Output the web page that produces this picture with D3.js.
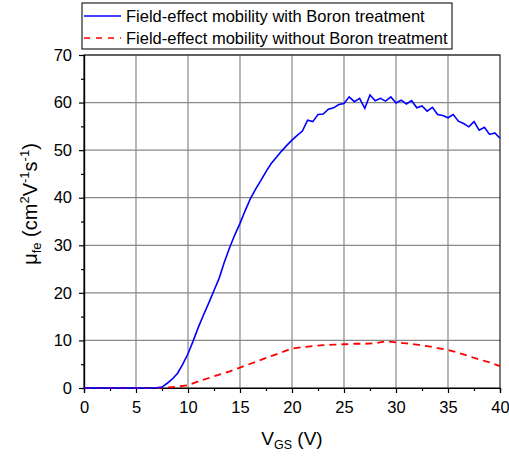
<!DOCTYPE html>
<html><head><meta charset="utf-8">
<script src="https://cdn.jsdelivr.net/npm/d3@7"></script>
<style>body{margin:0;background:#fff}svg{display:block;font-family:"Liberation Sans",Arial,sans-serif}</style>
</head><body>
<script>
const vgsBoron = [0,0.5,1,1.5,2,2.5,3,3.5,4,4.5,5,5.5,6,6.5,7,7.5,8,8.5,9,9.5,10,10.5,11,11.5,12,12.5,13,13.5,14,14.5,15,15.5,16,16.5,17,17.5,18,18.5,19,19.5,20,20.5,21,21.5,22,22.5,23,23.5,24,24.5,25,25.5,26,26.5,27,27.5,28,28.5,29,29.5,30,30.5,31,31.5,32,32.5,33,33.5,34,34.5,35,35.5,36,36.5,37,37.5,38,38.5,39,39.5,40];
const muBoron = [0,0,0,0,0,0,0,0,0,0,0,0,0,0,0.05,0.2,1.0,1.9,3.1,5.0,7.2,9.9,12.8,15.4,17.9,20.5,23.1,26.5,29.5,32.2,34.6,37.3,39.8,41.8,43.6,45.5,47.2,48.5,49.8,51.0,52.1,53.1,54.0,56.3,56.0,57.5,57.6,58.6,58.9,59.6,59.8,61.2,60.2,60.9,58.8,61.6,60.4,60.9,60.3,61.2,59.9,60.5,59.7,60.4,58.9,59.3,58.2,59.0,57.5,57.3,56.8,57.5,56.1,55.6,54.9,56.0,54.2,54.8,53.3,53.6,52.5];
const vgsNo = [0,1,2,3,4,5,6,7,8,9,10,11,12,13,14,15,16,17,18,19,20,21,22,23,24,25,26,27,28,29,30,31,32,33,34,35,36,37,38,39,40];
const muNo = [0,0,0,0,0,0,0,0,0.1,0.3,0.6,1.4,2.1,2.8,3.5,4.3,5.1,5.9,6.7,7.5,8.3,8.6,8.8,9.0,9.1,9.2,9.3,9.3,9.4,9.8,9.6,9.4,9.1,8.8,8.4,8.0,7.4,6.7,6.0,5.4,4.6];
const xTicks = [0,5,10,15,20,25,30,35,40];
const yTicks = [0,10,20,30,40,50,60,70];
const legendLabels = ["Field-effect mobility with Boron treatment","Field-effect mobility without Boron treatment"];

const W=509,H=456;
const svg=d3.select("body").append("svg").attr("width",W).attr("height",H);
const x=d3.scaleLinear().domain([0,40]).range([84,500]);
const y=d3.scaleLinear().domain([0,70]).range([388,55]);

// grid
svg.append("g").selectAll("line").data(xTicks.slice(1,-1)).join("line")
  .attr("x1",d=>x(d)).attr("x2",d=>x(d)).attr("y1",y(0)).attr("y2",y(70))
  .attr("stroke","#888").attr("stroke-width",1.2);
svg.append("g").selectAll("line").data(yTicks.slice(1)).join("line")
  .attr("y1",d=>y(d)).attr("y2",d=>y(d)).attr("x1",x(0)).attr("x2",x(40))
  .attr("stroke","#888").attr("stroke-width",1.2);

// frame
svg.append("rect").attr("x",x(0)).attr("y",y(70)).attr("width",x(40)-x(0)).attr("height",y(0)-y(70))
  .attr("fill","none").attr("stroke","#222").attr("stroke-width",1.2);

// axes
const xa=svg.append("g").attr("transform",`translate(0,${y(0)})`)
  .call(d3.axisBottom(x).tickValues(xTicks).tickSize(5).tickPadding(8).tickFormat(d3.format("d")));
const xm=svg.append("g").attr("transform",`translate(0,${y(0)})`)
  .call(d3.axisBottom(x).tickValues(d3.range(2.5,40,5)).tickSize(3).tickFormat(""));
const ya=svg.append("g").attr("transform",`translate(${x(0)},0)`)
  .call(d3.axisLeft(y).tickValues(yTicks).tickSize(5).tickPadding(7).tickFormat(d3.format("d")));
const ym=svg.append("g").attr("transform",`translate(${x(0)},0)`)
  .call(d3.axisLeft(y).tickValues(d3.range(5,70,10)).tickSize(3).tickFormat(""));
[xa,xm,ya,ym].forEach(g=>{g.select(".domain").attr("stroke","#000").attr("stroke-width",1.2);
  g.selectAll(".tick line").attr("stroke","#000").attr("stroke-width",1.2);
  g.selectAll("text").attr("font-size",16.5).attr("fill","#000").attr("font-family","Liberation Sans, Arial, sans-serif");});

// lines
const lineB=d3.line().x((d,i)=>x(vgsBoron[i])).y(d=>y(d));
const lineN=d3.line().x((d,i)=>x(vgsNo[i])).y(d=>y(d));
svg.append("path").datum(muNo).attr("d",lineN).attr("fill","none").attr("stroke","#ff0000")
  .attr("stroke-width",1.8).attr("stroke-dasharray","7,5");
svg.append("path").datum(muBoron).attr("d",lineB).attr("fill","none").attr("stroke","#0000ff")
  .attr("stroke-width",1.6);

// axis titles
const xt=svg.append("text").attr("x",292).attr("y",445).attr("text-anchor","middle").attr("font-size",19);
xt.append("tspan").text("V");
xt.append("tspan").attr("font-size",12.5).attr("dy",4).text("GS");
xt.append("tspan").attr("dy",-4).text(" (V)");

const yt=svg.append("text").attr("transform","translate(37,204) rotate(-90)").attr("text-anchor","middle").attr("font-size",20);
yt.append("tspan").text("μ");
yt.append("tspan").attr("font-size",13).attr("dy",4).text("fe");
yt.append("tspan").attr("dy",-4).text(" (cm");
yt.append("tspan").attr("font-size",13).attr("dy",-8).text("2");
yt.append("tspan").attr("dy",8).text("V");
yt.append("tspan").attr("font-size",13).attr("dy",-8).text("-1");
yt.append("tspan").attr("dy",8).text("s");
yt.append("tspan").attr("font-size",13).attr("dy",-8).text("-1");
yt.append("tspan").attr("dy",8).text(")");

// legend
const lg=svg.append("g");
lg.append("rect").attr("x",82).attr("y",3).attr("width",370).attr("height",46)
  .attr("fill","#fff").attr("stroke","#222").attr("stroke-width",1.2);
const colors=["#0000ff","#ff0000"], dashes=[null,"6,6"], rowsY=[16,38];
legendLabels.forEach((t,i)=>{
  lg.append("line").attr("x1",84).attr("x2",121).attr("y1",rowsY[i]).attr("y2",rowsY[i])
    .attr("stroke",colors[i]).attr("stroke-width",1.6).attr("stroke-dasharray",dashes[i]);
  lg.append("text").attr("x",126).attr("y",rowsY[i]+6).attr("font-size",16.5).text(t);
});
</script>
</body></html>
